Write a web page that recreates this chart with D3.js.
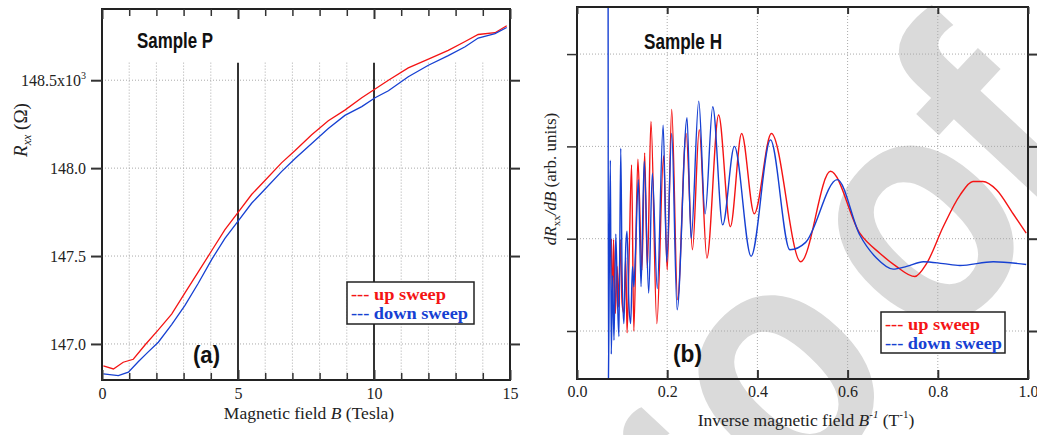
<!DOCTYPE html>
<html>
<head>
<meta charset="utf-8">
<script src="https://cdn.jsdelivr.net/npm/d3@7"></script>
<style>
  html, body { margin: 0; padding: 0; background: #fff; }
  svg { display: block; }
</style>
</head>
<body>
<svg id="chart" width="1037" height="435"></svg>
<script>
// ---- (a) Sample P : Rxx vs B ----
const bUp = [0.05, 0.42, 0.78, 1.15, 1.58, 2.07, 2.56, 3.05, 3.54, 4.03, 4.52, 5.01, 5.5, 5.99, 6.6, 7.1, 7.71, 8.32, 8.93, 9.55, 10.04, 10.53, 11.26, 12.0, 12.73, 13.35, 13.83, 14.45, 14.88];
const rUp = [146.875, 146.858, 146.896, 146.913, 146.994, 147.08, 147.17, 147.29, 147.41, 147.53, 147.65, 147.75, 147.85, 147.93, 148.03, 148.10, 148.19, 148.27, 148.33, 148.40, 148.45, 148.50, 148.57, 148.62, 148.67, 148.72, 148.76, 148.77, 148.81];
const bDown = [0.05, 0.6, 0.97, 1.34, 1.7, 2.07, 2.56, 3.05, 3.54, 4.03, 4.52, 5.01, 5.5, 5.99, 6.6, 7.1, 7.71, 8.32, 8.93, 9.55, 10.04, 10.53, 11.26, 12.0, 12.73, 13.35, 13.83, 14.45, 14.88];
const rDown = [146.83, 146.82, 146.84, 146.90, 146.955, 147.01, 147.11, 147.22, 147.345, 147.48, 147.60, 147.70, 147.80, 147.88, 147.98, 148.055, 148.14, 148.225, 148.30, 148.35, 148.40, 148.44, 148.52, 148.585, 148.64, 148.69, 148.74, 148.765, 148.80];

// ---- (b) Sample H : dRxx/dB vs 1/B (arb. units) ----
const invUp = [0.0760, 0.0790, 0.0810, 0.0850, 0.0890, 0.0920, 0.0960, 0.1000, 0.1040, 0.1080, 0.1110, 0.1160, 0.1210, 0.1260, 0.1350, 0.1440, 0.1500, 0.1560, 0.1640, 0.1770, 0.1920, 0.2000, 0.2100, 0.2230, 0.2420, 0.2560, 0.2710, 0.2880, 0.3140, 0.3400, 0.3650, 0.3930, 0.4310, 0.4960, 0.5620, 0.6270, 0.6720, 0.7080, 0.7490, 0.7750, 0.8120, 0.8490, 0.8780, 0.9000, 0.9300, 0.9670, 0.9960];
const dUp = [1.0, 0.3, 0.99, 0.19, 0.7, 0.26, 0.99, 0.3, 0.19, 0.8, -0.02, 0.9, 1.80, 0.0, 1.86, 0.66, 1.93, 0.68, 2.27, 0.08, 1.9, 0.66, 2.40, 0.34, 2.14, 0.88, 2.18, 0.79, 2.34, 1.13, 2.14, 1.27, 2.14, 0.75, 1.73, 1.06, 0.84, 0.70, 0.59, 0.73, 1.13, 1.47, 1.62, 1.62, 1.53, 1.27, 1.06];
const invDown = [0.0690, 0.0696, 0.0712, 0.0740, 0.0760, 0.0790, 0.0820, 0.0860, 0.0900, 0.0930, 0.0970, 0.1000, 0.1040, 0.1080, 0.1110, 0.1150, 0.1190, 0.1230, 0.1260, 0.1300, 0.1360, 0.1420, 0.1490, 0.1590, 0.1670, 0.1780, 0.1910, 0.1990, 0.2100, 0.2220, 0.2440, 0.2530, 0.2700, 0.2840, 0.3010, 0.3230, 0.3490, 0.3860, 0.4290, 0.4720, 0.5070, 0.5770, 0.6270, 0.6640, 0.7010, 0.7310, 0.7680, 0.8120, 0.8490, 0.9230, 0.9960];
const dDown = [3.6, -0.6, 0.4, 1.85, -0.25, 0.6, -0.1, 1.05, 0.3, -0.06, 1.98, 0.6, 0.08, 0.9, 1.08, 0.3, 0.08, 0.7, 0.48, 0.9, 1.64, 0.48, 1.84, 0.41, 1.71, 0.46, 2.23, 0.75, 2.14, 0.23, 2.31, 1.0, 2.49, 1.27, 2.43, 1.15, 2.0, 0.81, 2.07, 0.88, 0.96, 1.64, 1.04, 0.79, 0.67, 0.70, 0.75, 0.73, 0.71, 0.75, 0.72];

// ---- ticks and labels ----
const xTicksA = [0, 5, 10, 15];
const xMinorA = [1, 2, 3, 4, 6, 7, 8, 9, 11, 12, 13, 14];
const yTicksA = [147.0, 147.5, 148.0, 148.5];
const xTicksB = [0, 0.2, 0.4, 0.6, 0.8, 1.0];
const xGridB = [0.2, 0.4, 0.6, 0.8];
const yTicksB = [0, 1, 2, 3];
const seriesNames = ["up sweep", "down sweep"];

const svg = d3.select("#chart");
const serif = "Liberation Serif, Times New Roman, serif";
const narrow = "Liberation Sans Narrow, Arial Narrow, Liberation Sans, Arial, sans-serif";
const red = "#f41414", blue = "#1640d2";
const ink = "#222";

// watermark "Proof" behind everything, glyph by glyph along a tilted baseline
const wmSize = 335, wmDeg = -47, wmAngle = wmDeg * Math.PI / 180;
const wmRead = [Math.cos(wmAngle), Math.sin(wmAngle)];
const wmGlyphs = ["P", "r", "o", "o", "f"];
const wmAdvance = [0.667, 0.389, 0.611, 0.611, 0.333];
const wmKern = [0, 0, 0, 0, -35];
const wmStart = [540, 777];
let wmCum = 0;
wmGlyphs.forEach((ch, i) => {
    const along = (wmCum + wmAdvance[i] / 2) * wmSize + wmKern[i];
    wmCum += wmAdvance[i];
    const px = wmStart[0] + along * wmRead[0];
    const py = wmStart[1] + along * wmRead[1];
    svg.append("text")
        .attr("transform", `translate(${px},${py}) rotate(${wmDeg}) scale(0.85,1)`)
        .attr("text-anchor", "middle")
        .style("font-family", "Liberation Sans, Arial, sans-serif")
        .attr("font-weight", "bold")
        .attr("font-size", wmSize)
        .attr("fill", "#dadada")
        .text(ch);
});

function styleAxis(g, width, keepText) {
    g.select(".domain").remove();
    g.attr("font-family", null);
    g.selectAll("line").attr("stroke", "#333").attr("stroke-width", width);
    if (!keepText) { g.selectAll("text").remove(); return; }
    g.selectAll("text")
        .style("font-family", serif)
        .attr("font-size", 16)
        .attr("fill", ink);
}

function dotted(g, x1, y1, x2, y2) {
    g.append("line")
        .attr("x1", x1).attr("y1", y1).attr("x2", x2).attr("y2", y2)
        .attr("stroke", "#aaa")
        .attr("stroke-width", 1)
        .attr("stroke-dasharray", "1,2");
}

function legend(x, y, w, h) {
    const g = svg.append("g");
    g.append("rect")
        .attr("x", x).attr("y", y).attr("width", w).attr("height", h)
        .attr("fill", "#fff").attr("stroke", ink).attr("stroke-width", 1.5);
    [red, blue].forEach((c, i) => {
        g.append("text")
            .attr("x", x + 4)
            .attr("y", y + 18 + i * 18.5)
            .style("font-family", serif)
            .attr("font-weight", "bold")
            .attr("font-size", 17)
            .attr("fill", c)
            .attr("textLength", i === 0 ? 95 : 117)
            .attr("lengthAdjust", "spacingAndGlyphs")
            .text("--- " + seriesNames[i]);
    });
}

function label(x, y, txt, size, len) {
    svg.append("text")
        .attr("x", x).attr("y", y)
        .style("font-family", narrow)
        .attr("font-weight", "bold")
        .attr("font-size", size)
        .attr("fill", "#111")
        .attr("textLength", len)
        .attr("lengthAdjust", "spacingAndGlyphs")
        .text(txt);
}

// ================= panel (a) =================
const xA = d3.scaleLinear().domain([0, 15]).range([102, 510]);
const yA = d3.scaleLinear().domain([146.795, 148.905]).range([380, 9]);

const gridA = svg.append("g");
yTicksA.forEach(v => dotted(gridA, xA(0), yA(v), xA(15), yA(v)));
xMinorA.forEach(v => dotted(gridA, xA(v), yA(148.6), xA(v), yA.range()[0]));
[5, 10].forEach(v => gridA.append("line")
    .attr("x1", xA(v)).attr("x2", xA(v))
    .attr("y1", yA(148.6)).attr("y2", yA.range()[0])
    .attr("stroke", "#333").attr("stroke-width", 2));

svg.append("clipPath").attr("id", "clipA")
    .append("rect").attr("x", 102).attr("y", 9).attr("width", 408).attr("height", 371);

const lineA = d3.line().x(d => xA(d[0])).y(d => yA(d[1]));
[[bUp, rUp, red], [bDown, rDown, blue]].forEach(([bx, ry, c]) => {
    svg.append("path")
        .datum(bx.map((b, i) => [b, ry[i]]))
        .attr("clip-path", "url(#clipA)")
        .attr("fill", "none")
        .attr("stroke", c)
        .attr("stroke-width", 1.3)
        .attr("d", lineA);
});

svg.append("rect")
    .attr("x", 102).attr("y", 9).attr("width", 408).attr("height", 371)
    .attr("fill", "none").attr("stroke", ink).attr("stroke-width", 2);

// left axis with labels
const axLA = svg.append("g").attr("transform", "translate(102,0)")
    .call(d3.axisLeft(yA).tickValues(yTicksA).tickSize(11).tickPadding(5).tickFormat(d3.format(".1f")));
styleAxis(axLA, 2, true);
axLA.selectAll(".tick text").filter(d => d === 148.5)
    .text(null)
    .call(t => {
        t.append("tspan").text("148.5x10");
        t.append("tspan").attr("dy", -7).attr("font-size", 10).text("3");
    });

styleAxis(svg.append("g").attr("transform", "translate(510,0)")
    .call(d3.axisRight(yA).tickValues(yTicksA).tickSize(10)), 2, false);

// top / bottom ticks point inward
styleAxis(svg.append("g").attr("transform", "translate(0,9)")
    .call(d3.axisTop(xA).tickValues(xMinorA).tickSize(-7)), 1.5, false);
styleAxis(svg.append("g").attr("transform", "translate(0,9)")
    .call(d3.axisTop(xA).tickValues(xTicksA).tickSize(-10)), 2, false);
styleAxis(svg.append("g").attr("transform", "translate(0,380)")
    .call(d3.axisBottom(xA).tickValues(xMinorA).tickSize(-7)), 1.5, false);
styleAxis(svg.append("g").attr("transform", "translate(0,380)")
    .call(d3.axisBottom(xA).tickValues(xTicksA).tickSize(-10).tickPadding(8).tickFormat(d3.format("d"))), 2, true);

// axis titles (a)
svg.append("text")
    .attr("x", 309).attr("y", 419)
    .attr("text-anchor", "middle")
    .style("font-family", serif).attr("font-size", 17.5).attr("fill", ink)
    .call(t => {
        t.append("tspan").text("Magnetic field ");
        t.append("tspan").attr("font-style", "italic").text("B");
        t.append("tspan").text(" (Tesla)");
    });
svg.append("text")
    .attr("transform", "translate(27,130) rotate(-90)")
    .attr("text-anchor", "middle")
    .style("font-family", serif).attr("font-size", 19).attr("fill", ink)
    .call(t => {
        t.append("tspan").attr("font-style", "italic").text("R");
        t.append("tspan").attr("font-style", "italic").attr("font-size", 12).attr("dy", 4).text("xx");
        t.append("tspan").attr("dy", -4).text(" (Ω)");
    });

label(137, 48, "Sample P", 22, 76);
label(193, 363, "(a)", 24, 27);
legend(347, 282, 127, 42);

// ================= panel (b) =================
const xB = d3.scaleLinear().domain([0, 1]).range([577, 1028]);
const yB = d3.scaleLinear().domain([-0.52, 3.51]).range([379, 7]);

const gridB = svg.append("g");
yTicksB.forEach(v => dotted(gridB, xB(0), yB(v), xB(1), yB(v)));
xGridB.forEach(v => dotted(gridB, xB(v), yB.range()[1], xB(v), yB.range()[0]));

svg.append("clipPath").attr("id", "clipB")
    .append("rect").attr("x", 577).attr("y", 7).attr("width", 451).attr("height", 372);

const lineB = d3.line().x(d => xB(d[0])).y(d => yB(d[1])).curve(d3.curveMonotoneX);
[[invUp, dUp, red], [invDown, dDown, blue]].forEach(([bx, ry, c]) => {
    svg.append("path")
        .datum(bx.map((b, i) => [b, ry[i]]))
        .attr("clip-path", "url(#clipB)")
        .attr("fill", "none")
        .attr("stroke", c)
        .attr("stroke-width", 1.4)
        .attr("d", lineB);
});

svg.append("rect")
    .attr("x", 577).attr("y", 7).attr("width", 451).attr("height", 372)
    .attr("fill", "none").attr("stroke", ink).attr("stroke-width", 2);

styleAxis(svg.append("g").attr("transform", "translate(577,0)")
    .call(d3.axisLeft(yB).tickValues(yTicksB).tickSize(10)), 1.5, false);
styleAxis(svg.append("g").attr("transform", "translate(1028,0)")
    .call(d3.axisRight(yB).tickValues(yTicksB).tickSize(9)), 2, false);
styleAxis(svg.append("g").attr("transform", "translate(0,7)")
    .call(d3.axisTop(xB).tickValues(xTicksB).tickSize(-7)), 2, false);
styleAxis(svg.append("g").attr("transform", "translate(0,379)")
    .call(d3.axisBottom(xB).tickValues(xTicksB).tickSize(-9).tickPadding(7).tickFormat(d3.format(".1f"))), 2, true);

svg.append("text")
    .attr("x", 806).attr("y", 426)
    .attr("text-anchor", "middle")
    .style("font-family", serif).attr("font-size", 17.5).attr("fill", ink)
    .call(t => {
        t.append("tspan").text("Inverse magnetic field ");
        t.append("tspan").attr("font-style", "italic").text("B");
        t.append("tspan").attr("font-style", "italic").attr("font-size", 11).attr("dy", -8).text("-1");
        t.append("tspan").attr("dy", 8).text(" (T");
        t.append("tspan").attr("font-size", 11).attr("dy", -8).text("-1");
        t.append("tspan").attr("dy", 8).text(")");
    });
svg.append("text")
    .attr("transform", "translate(556,179) rotate(-90)")
    .attr("text-anchor", "middle")
    .style("font-family", serif).attr("font-size", 17).attr("fill", ink)
    .call(t => {
        t.append("tspan").attr("font-style", "italic").text("dR");
        t.append("tspan").attr("font-size", 11).attr("dy", 4).text("xx");
        t.append("tspan").attr("font-style", "italic").attr("dy", -4).text("/dB");
        t.append("tspan").text(" (arb. units)");
    });

label(644, 49, "Sample H", 22, 78);
label(673, 362, "(b)", 24, 29);
legend(881, 312, 124, 41);
</script>
</body>
</html>
